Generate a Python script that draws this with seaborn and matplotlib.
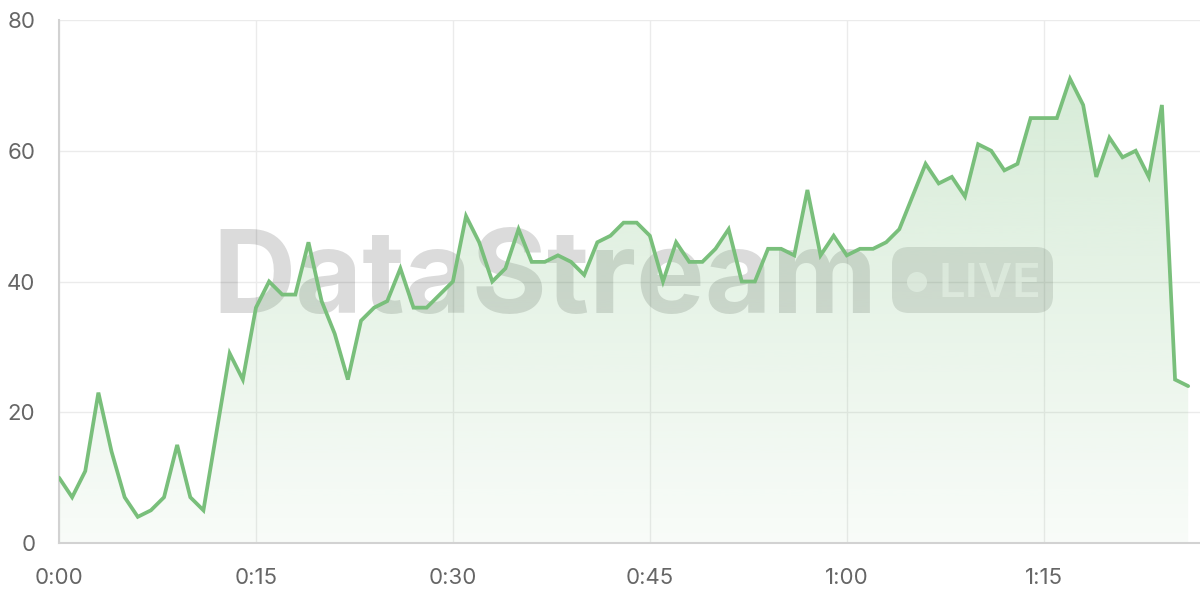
import numpy as np
import pandas as pd
import matplotlib
matplotlib.use("Agg")
import matplotlib.pyplot as plt
from matplotlib.patches import FancyBboxPatch, Circle
from matplotlib.transforms import IdentityTransform
import seaborn as sns

# ---- data ----
minutes = list(range(87))
values = [10, 7, 11, 23, 14, 7, 4, 5, 7, 15,
          7, 5, 17, 29, 25, 36, 40, 38, 38, 46,
          37, 32, 25, 34, 36, 37, 42, 36, 36, 38,
          40, 50, 46, 40, 42, 48, 43, 43, 44, 43,
          41, 46, 47, 49, 49, 47, 40, 46, 43, 43,
          45, 48, 40, 40, 45, 45, 44, 54, 44, 47,
          44, 45, 45, 46, 48, 53, 58, 55, 56, 53,
          61, 60, 57, 58, 65, 65, 65, 71, 67, 56,
          62, 59, 60, 56, 67, 25, 24]
x_ticks = [0, 15, 30, 45, 60, 75]
x_tick_labels = ["0:00", "0:15", "0:30", "0:45", "1:00", "1:15"]
y_ticks = [0, 20, 40, 60, 80]

df = pd.DataFrame({"minute": minutes, "value": values})

# ---- style ----
sns.set_theme(style="white")
plt.rcParams["font.family"] = ["Inter", "DejaVu Sans"]

LINE = "#79bf7b"
GRID = "#ebebeb"
SPINE = "#d2d2d2"
TXT = "#666666"

fig = plt.figure(figsize=(12, 6), dpi=100)
fig.patch.set_facecolor("white")
ax = fig.add_axes([59 / 1200, 57 / 600, 1141 / 1200, 523 / 600])
ax.set_facecolor("white")

# gradient area fill
poly = ax.fill_between(df["minute"], df["value"], 0, color="none", lw=0)
rgb = matplotlib.colors.to_rgb(LINE)
alpha = np.linspace(0.05, 0.33, 256)
grad = np.zeros((256, 1, 4))
grad[:, 0, :3] = rgb
grad[:, 0, 3] = alpha
im = ax.imshow(grad, extent=[0, max(minutes), 0, 80], origin="lower",
               aspect="auto", zorder=2, interpolation="bicubic")
im.set_clip_path(poly.get_paths()[0], transform=ax.transData)

sns.lineplot(data=df, x="minute", y="value", ax=ax, color=LINE,
             linewidth=2.7, zorder=3)
for ln in ax.lines:
    ln.set_solid_joinstyle("miter")

ax.set_xlim(0, 86.9)
ax.set_ylim(0, 80)
ax.set_xticks(x_ticks)
ax.set_xticklabels(x_tick_labels)
ax.set_yticks(y_ticks)
ax.set_xlabel("")
ax.set_ylabel("")

ax.grid(True, color=GRID, lw=1.0)
ax.set_axisbelow(True)
for s in ["top", "right"]:
    ax.spines[s].set_visible(False)
for s in ["left", "bottom"]:
    ax.spines[s].set_color(SPINE)
    ax.spines[s].set_linewidth(1.5)
    ax.spines[s].set_zorder(2.5)

ax.tick_params(axis="both", length=11, width=0.8, color="#e3e3e3",
               labelcolor=TXT, labelsize=16)
ax.tick_params(axis="x", pad=7)
ax.tick_params(axis="y", pad=6)

# ---- watermark ----
ax.text(212, 600 - 313, "DataStream", transform=IdentityTransform(),
        ha="left", va="baseline", fontsize=83, fontweight="bold",
        color=(0, 0, 0, 0.14), zorder=1.5, clip_on=False)
badge = FancyBboxPatch((892, 600 - 313), 161, 66,
                       boxstyle="round,pad=0,rounding_size=17",
                       transform=IdentityTransform(), facecolor=(0, 0, 0, 0.12),
                       edgecolor="none", zorder=1.5, clip_on=False)
ax.add_artist(badge)
dot = Circle((917, 600 - 282), 10, transform=IdentityTransform(),
             facecolor=(1, 1, 1, 0.6), edgecolor="none", zorder=1.6, clip_on=False)
ax.add_artist(dot)
ax.text(938, 600 - 297, "LIVE", transform=IdentityTransform(),
        ha="left", va="baseline", fontsize=34, fontweight="semibold",
        color=(1, 1, 1, 0.6), zorder=1.6, clip_on=False)

fig.savefig("out.png", dpi=100, facecolor="white")
